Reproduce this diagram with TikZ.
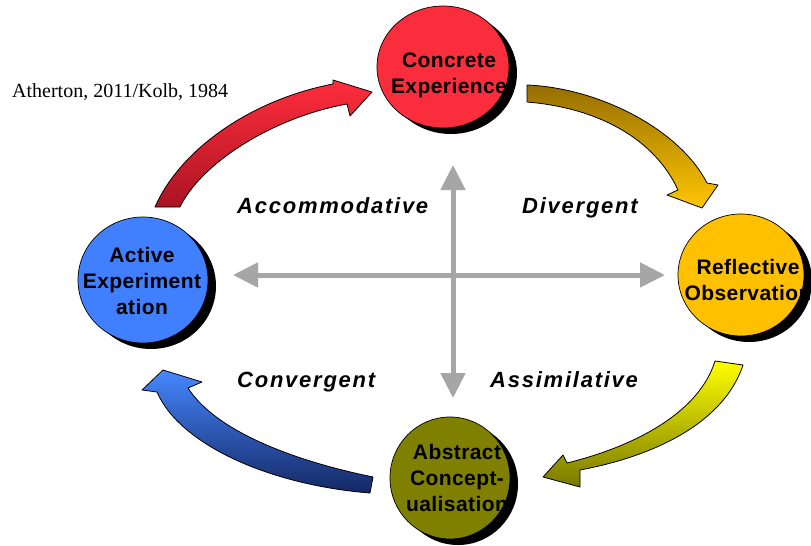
\documentclass[tikz,border=0pt]{standalone}
\usepackage{fontspec}
\setmainfont{Liberation Serif}
\newfontfamily\circfont[LetterSpace=2]{Liberation Sans}
\newfontfamily\labfont[LetterSpace=8]{Liberation Sans}
\usetikzlibrary{arrows.meta,shapes.geometric}
\definecolor{cered}{RGB}{250,45,60}
\definecolor{roorange}{RGB}{255,192,0}
\definecolor{acolive}{RGB}{128,128,0}
\definecolor{aeblue}{RGB}{64,128,255}
\definecolor{axisgray}{RGB}{166,166,166}
\definecolor{redtop}{RGB}{255,45,60}
\definecolor{redbot}{RGB}{170,20,35}
\definecolor{goldtop}{RGB}{150,110,0}
\definecolor{goldbot}{RGB}{255,198,0}
\definecolor{yeltop}{RGB}{255,255,0}
\definecolor{yelbot}{RGB}{120,120,0}
\definecolor{bluetop}{RGB}{70,135,255}
\definecolor{bluebot}{RGB}{20,40,100}
\begin{document}
\begin{tikzpicture}[x=1pt,y=-1pt,
  stage/.style={ellipse, draw=black, line width=0.7pt, inner sep=0pt},
  stageshadow/.style={ellipse, fill=black, inner sep=0pt},
  stagetext/.style={font=\circfont\bfseries\fontsize{21}{26}\selectfont, align=center, inner sep=0pt},
  quad/.style={font=\labfont\bfseries\itshape\fontsize{22}{24}\selectfont, anchor=base west, inner sep=0pt},
  axis/.style={draw=axisgray, line width=5pt, {Triangle[length=25pt,width=24pt]}-{Triangle[length=25pt,width=24pt]}},
  fatarrow/.style={draw=black, line width=0.8pt, line join=round}
]
\useasboundingbox (0,0) rectangle (811,546);
\clip (0,0) rectangle (811,546);
\fill[white] (0,0) rectangle (811,546);

% citation
\node[anchor=base west, inner sep=0pt, font=\fontsize{20}{24}\selectfont] (cite) at (12,97) {Atherton, 2011/Kolb, 1984};

% axes
\coordinate (axL) at (233,275);
\coordinate (axR) at (665,275);
\coordinate (axT) at (453,165);
\coordinate (axB) at (453,398);
\draw[axis] (axL) -- (axR);
\draw[axis] (axT) -- (axB);

% quadrant labels
\node[quad] (accom) at (237,213) {Accommodative};
\node[quad] (diver) at (522,213) {Divergent};
\node[quad] (conver) at (237,387) {Convergent};
\node[quad] (assim) at (490,387) {Assimilative};

% curved fat arrows
\shadedraw[fatarrow, top color=redtop, bottom color=redbot]
  (155,207) .. controls (180,150) and (250,100) .. (333,84)
  -- (333,80) -- (372,92) -- (350,116) -- (347,104)
  .. controls (270,118) and (200,165) .. (180,207) -- cycle;
\shadedraw[fatarrow, top color=goldtop, bottom color=goldbot]
  (527,85) .. controls (600,88) and (680,130) .. (707,183)
  -- (718,185) -- (702,208) -- (667,195) -- (678,190)
  .. controls (655,140) and (600,108) .. (527,102) -- cycle;
\shadedraw[fatarrow, top color=yeltop, bottom color=yelbot]
  (715,361) -- (743,365) .. controls (725,420) and (660,455) .. (580,470)
  -- (580,487) -- (543,477) -- (563,455) -- (567,463)
  .. controls (640,445) and (700,410) .. (715,361) -- cycle;
\shadedraw[fatarrow, top color=bluetop, bottom color=bluebot]
  (373,477) .. controls (290,460) and (215,430) .. (188,388)
  -- (202,382) -- (163,370) -- (142,390) -- (157,392)
  .. controls (180,445) and (270,485) .. (370,493) -- cycle;

% shadows
\node[stageshadow, minimum width=132pt, minimum height=122pt] (ceS) at (451,73) {};
\node[stageshadow, minimum width=126pt, minimum height=122pt] (roS) at (749,281) {};
\node[stageshadow, minimum width=120pt, minimum height=122pt] (acS) at (458,484) {};
\node[stageshadow, minimum width=130pt, minimum height=126pt] (aeS) at (151,286) {};

% stages
\node[stage, fill=cered, minimum width=132pt, minimum height=122pt] (ce) at (443,67) {};
\node[stage, fill=roorange, minimum width=126pt, minimum height=122pt] (ro) at (741,275) {};
\node[stage, fill=acolive, minimum width=120pt, minimum height=122pt] (ac) at (450,478) {};
\node[stage, fill=aeblue, minimum width=130pt, minimum height=126pt] (ae) at (143,280) {};

\node[stagetext] (ceT) at (449,75) {Concrete\\Experience};
\node[stagetext] (roT) at (748,280) {Reflective\\Observation};
\node[stagetext] (acT) at (457,478) {Abstract\\Concept-\\ualisation};
\node[stagetext] (aeT) at (142,281) {Active\\Experiment\\ation};
\end{tikzpicture}
\end{document}
